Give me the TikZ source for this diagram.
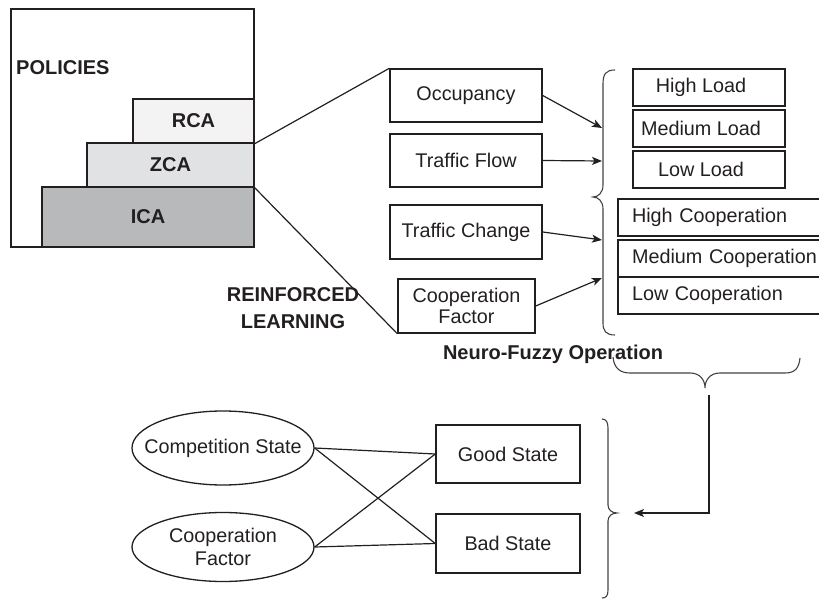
\documentclass[tikz,border=0pt]{standalone}
\usepackage{fontspec}
\setmainfont{Liberation Sans}
\usetikzlibrary{arrows.meta,shapes.geometric}
\definecolor{ink}{HTML}{231F20}
\definecolor{rcafill}{HTML}{F3F3F3}
\definecolor{zcafill}{HTML}{E1E2E3}
\definecolor{icafill}{HTML}{B8B9BA}
\begin{document}
\begin{tikzpicture}[x=1pt,y=-1pt,
  font=\fontsize{19.8}{22.5}\selectfont,
  box/.style={draw=ink, line width=1.4pt, inner sep=0pt, text=ink, rectangle},
  lvl/.style={box, font=\fontsize{20}{22}\selectfont\bfseries},
  oval/.style={draw=ink, line width=1.3pt, ellipse, inner sep=0pt, text=ink},
  boldlbl/.style={text=ink, font=\fontsize{20}{27}\selectfont\bfseries, inner sep=0pt},
  conn/.style={draw=ink, line width=1.2pt},
  arr/.style={conn, -{Stealth[length=10pt,width=8pt,inset=2.5pt]}},
  brc/.style={draw=ink!85, line width=1.1pt}
]
\useasboundingbox (0,0) rectangle (819,601);
\clip (0,0) rectangle (819,601);

% policies stack
\node[box, minimum width=243, minimum height=238] (pol) at (132.5,128) {};
\node[boldlbl, anchor=west] (poltxt) at (16,68) {POLICIES};
\node[lvl, fill=icafill, minimum width=212, minimum height=60] (ica) at (148,217) {ICA};
\node[lvl, fill=zcafill, minimum width=167, minimum height=44] (zca) at (170.5,165) {ZCA};
\node[lvl, fill=rcafill, minimum width=121, minimum height=44] (rca) at (193.5,121) {RCA};

\node[boldlbl, align=center] (rl) at (293,308.5) {REINFORCED\\LEARNING};

% input boxes
\node[box, minimum width=152, minimum height=53] (occ) at (466,95.5) {Occupancy};
\node[box, minimum width=152, minimum height=53] (tflow) at (466,160.5) {Traffic Flow};
\node[box, minimum width=152, minimum height=54] (tchange) at (466,232) {Traffic Change};
\node[box, minimum width=137, minimum height=54, align=center] (coop) at (466.5,306) {Cooperation\\[-1pt]Factor};

\draw[conn] (rca.south east) -- (occ.north west);
\draw[conn] (zca.south east) -- (coop.south west);

% arrow targets on the brace
\coordinate (a1) at (602,128);
\coordinate (a2) at (602,161);
\coordinate (a3) at (602,240);
\coordinate (a4) at (602,278);
\draw[arr] (occ.east) -- (a1);
\draw[arr] (tflow.east) -- (a2);
\draw[arr] (tchange.east) -- (a3);
\draw[arr] (coop.east) -- (a4);

% big left brace
\draw[brc] (615,70) .. controls (606,70) and (603,74) .. (603,84) -- (603,185)
  .. controls (603,193) and (598,197) .. (593,197)
  .. controls (598,197) and (603,201) .. (603,209) -- (603,323)
  .. controls (603,331) and (606,335) .. (615,335);

% load boxes
\node[box, minimum width=152, minimum height=37, label={[xshift=-8pt,text=ink]center:High Load}] (hl) at (709,87.5) {};
\node[box, minimum width=152, minimum height=37, label={[xshift=-8pt,text=ink]center:Medium Load}] (ml) at (709,128.5) {};
\node[box, minimum width=152, minimum height=37, label={[xshift=-8pt,text=ink]center:Low Load}] (ll) at (709,169.5) {};

% cooperation boxes (right side runs past the picture edge)
\node[box, minimum width=240, minimum height=37, text width=212, inner xsep=14pt, align=left] (hc) at (738,217.5) {High Cooperation};
\node[box, minimum width=240, minimum height=37, text width=212, inner xsep=14pt, align=left] (mc) at (738,258.5) {Medium Cooperation};
\node[box, minimum width=240, minimum height=37, text width=212, inner xsep=14pt, align=left] (lc) at (738,295.5) {Low Cooperation};

\node[boldlbl] (nfo) at (553,354) {Neuro-Fuzzy Operation};

% horizontal brace
\draw[brc] (613,357) .. controls (614,368) and (620,373) .. (630,373) -- (690,373)
  .. controls (700,373) and (705,380) .. (705,388)
  .. controls (705,380) and (710,373) .. (720,373) -- (785,373)
  .. controls (795,373) and (799,368) .. (800,358);

% lower right brace
\draw[brc] (602,419) .. controls (606,419) and (608,422) .. (608,428) -- (608,505)
  .. controls (608,510) and (612,513) .. (617,513)
  .. controls (612,513) and (608,516) .. (608,521) -- (608,590)
  .. controls (608,596) and (606,598) .. (602,598);

\coordinate (hbtip) at (709,395);
\coordinate (rbtip) at (634,513);
\draw[arr] (hbtip) |- (rbtip);

% state part
\node[oval, minimum width=182, minimum height=74, label={[text=ink]center:Competition State}] (comp) at (223,448) {};
\node[oval, minimum width=182, minimum height=69, label={[text=ink, align=center]center:Cooperation\\[0pt]Factor}] (cf) at (223,547) {};
\node[box, minimum width=144, minimum height=58] (good) at (508,454) {Good State};
\node[box, minimum width=144, minimum height=59] (bad) at (508,543.5) {Bad State};

\draw[conn] (comp.east) -- (good.west);
\draw[conn] (comp.east) -- (bad.west);
\draw[conn] (cf.east) -- (good.west);
\draw[conn] (cf.east) -- (bad.west);
\end{tikzpicture}
\end{document}
